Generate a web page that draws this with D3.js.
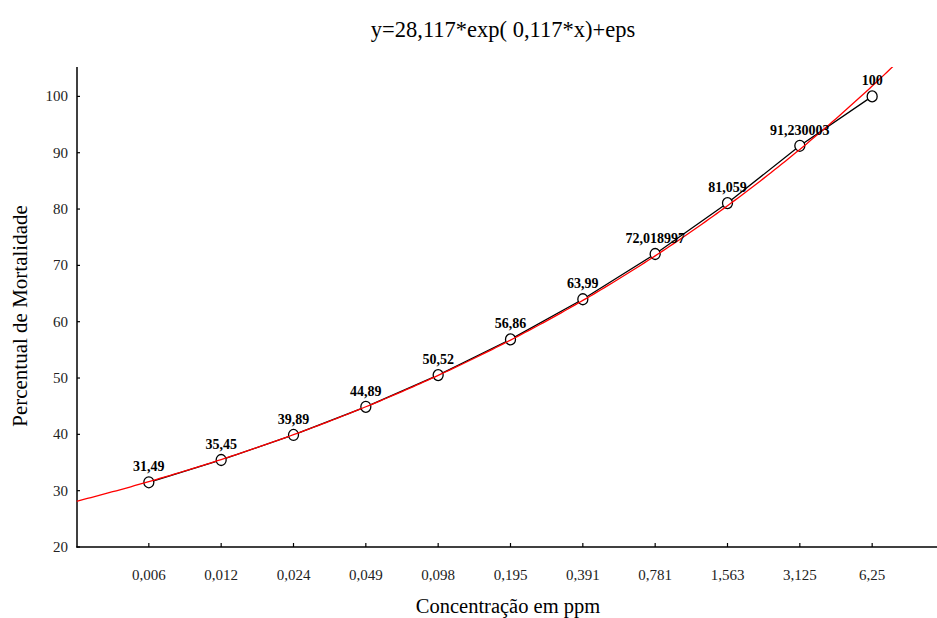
<!DOCTYPE html>
<html>
<head>
<meta charset="utf-8">
<script src="https://cdn.jsdelivr.net/npm/d3@7"></script>
<style>
  body { margin: 0; background: #fff; }
  svg { display: block; font-family: "Liberation Serif", "Times New Roman", serif; }
</style>
</head>
<body>
<div id="chart"></div>
<script>
// data
var concLabels = ["0,006","0,012","0,024","0,049","0,098","0,195","0,391","0,781","1,563","3,125","6,25"];
var mortality = [31.49, 35.45, 39.89, 44.89, 50.52, 56.86, 63.99, 72.018997, 81.059, 91.230003, 100];
var pointLabels = ["31,49","35,45","39,89","44,89","50,52","56,86","63,99","72,018997","81,059","91,230003","100"];
var yTicks = [20, 30, 40, 50, 60, 70, 80, 90, 100];
// fitted model from the title: y = a*exp(b*x)
var fitA = 28.117, fitB = 0.117;

var W = 937, H = 618;
var svg = d3.select("#chart").append("svg")
    .attr("width", W)
    .attr("height", H);

var x = d3.scaleLinear().domain([0, 12]).range([76.5, 944.5]);
var y = d3.scaleLinear().domain([20, 100]).range([547, 96.4]);
var yTop = 105.2;

// clip for the fitted curve
svg.append("clipPath").attr("id", "plotclip")
  .append("rect")
    .attr("x", x(0)).attr("y", y(yTop))
    .attr("width", W - x(0)).attr("height", y(20) - y(yTop));

// axes
svg.append("line")
    .attr("x1", 77).attr("x2", 77)
    .attr("y1", y(yTop)).attr("y2", 547.5)
    .attr("stroke", "black").attr("stroke-width", 1.5);
svg.append("line")
    .attr("x1", 76.3).attr("x2", W)
    .attr("y1", 547).attr("y2", 547)
    .attr("stroke", "black").attr("stroke-width", 1.5);

yTicks.forEach(function (v) {
  svg.append("line")
      .attr("x1", 77).attr("x2", 80)
      .attr("y1", y(v)).attr("y2", y(v))
      .attr("stroke", "black").attr("stroke-width", 1.2);
  svg.append("text")
      .attr("x", 68).attr("y", y(v) + 5)
      .attr("text-anchor", "end")
      .attr("font-size", 15)
      .attr("fill", "#222")
      .text(v);
});

concLabels.forEach(function (lab, i) {
  var px = x(i + 1);
  svg.append("line")
      .attr("x1", px).attr("x2", px)
      .attr("y1", 547).attr("y2", 543)
      .attr("stroke", "black").attr("stroke-width", 1.2);
  svg.append("text")
      .attr("x", px).attr("y", 580)
      .attr("text-anchor", "middle")
      .attr("font-size", 15)
      .attr("fill", "#222")
      .text(lab);
});

// titles
svg.append("text")
    .attr("x", 503).attr("y", 37)
    .attr("text-anchor", "middle")
    .attr("font-size", 22.5)
    .text("y=28,117*exp( 0,117*x)+eps");
svg.append("text")
    .attr("x", 508).attr("y", 613)
    .attr("text-anchor", "middle")
    .attr("font-size", 20.5)
    .text("Concentração em ppm");
svg.append("text")
    .attr("transform", "translate(27," + 316 + ") rotate(-90)")
    .attr("text-anchor", "middle")
    .attr("font-size", 21)
    .text("Percentual de Mortalidade");

// observed line
var pts = mortality.map(function (v, i) { return [x(i + 1), y(v)]; });
svg.append("path")
    .attr("d", d3.line()(pts))
    .attr("fill", "none")
    .attr("stroke", "black")
    .attr("stroke-width", 1.3);

svg.selectAll("ellipse.pt").data(pts).enter().append("ellipse")
    .attr("class", "pt")
    .attr("cx", function (d) { return d[0]; })
    .attr("cy", function (d) { return d[1]; })
    .attr("rx", 5)
    .attr("ry", 5.5)
    .attr("fill", "white")
    .attr("stroke", "black")
    .attr("stroke-width", 1.3);

// fitted curve
var xs = d3.range(0, 12.01, 0.05);
svg.append("path")
    .attr("clip-path", "url(#plotclip)")
    .attr("d", d3.line()
      .x(function (t) { return x(t); })
      .y(function (t) { return y(fitA * Math.exp(fitB * t)); })(xs))
    .attr("fill", "none")
    .attr("stroke", "#ff0000")
    .attr("stroke-width", 1.3);

// point labels
svg.selectAll("text.lab").data(pointLabels).enter().append("text")
    .attr("class", "lab")
    .attr("x", function (d, i) { return x(i + 1); })
    .attr("y", function (d, i) { return y(mortality[i]) - 11; })
    .attr("text-anchor", "middle")
    .attr("font-size", 14)
    .attr("font-weight", "bold")
    .text(function (d) { return d; });
</script>
</body>
</html>
